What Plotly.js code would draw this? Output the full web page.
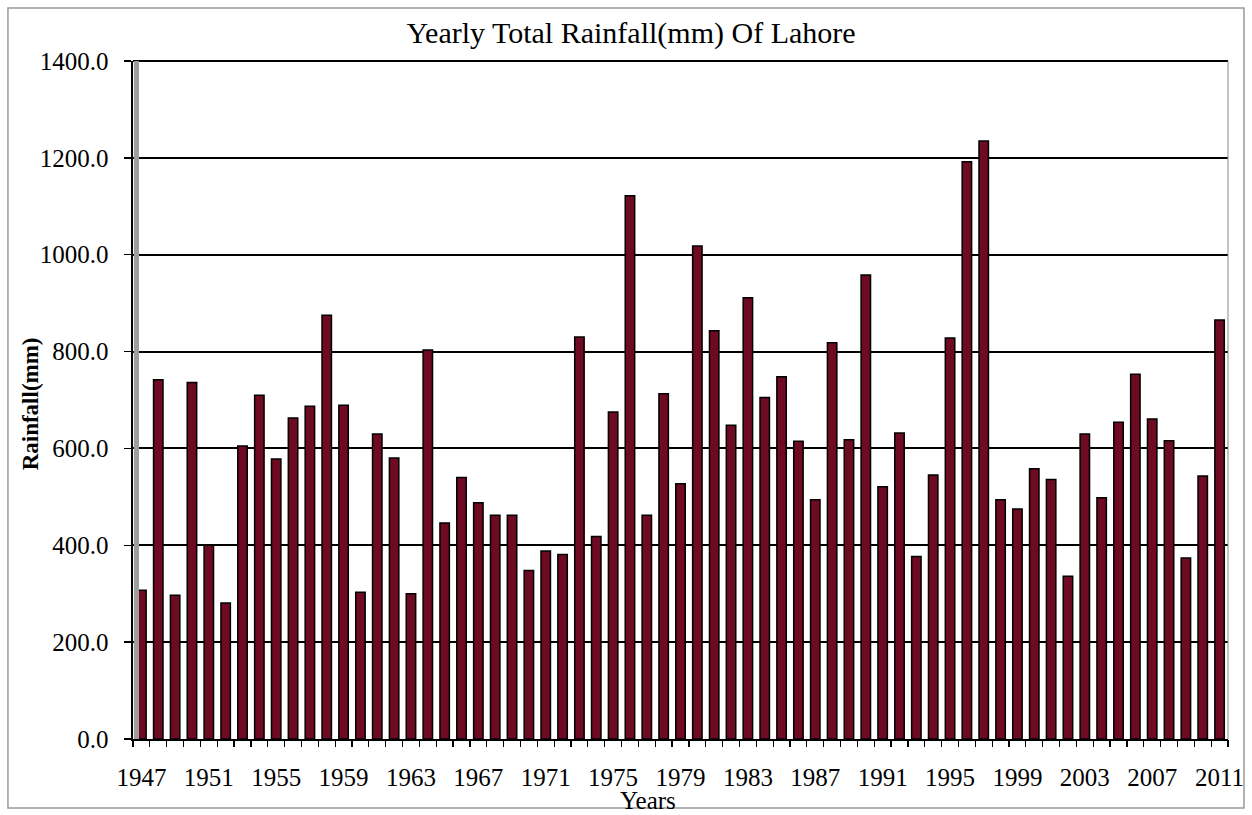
<!DOCTYPE html>
<html><head><meta charset="utf-8">
<script src="https://cdn.plot.ly/plotly-3.0.1.min.js"></script>
<style>html,body{margin:0;padding:0;background:#fff}#c{width:1252px;height:815px}</style>
</head><body><div id="c"></div>
<script>
var years = [];
for (var y = 1947; y <= 2011; y++) years.push(y);
var rainfall = [307,742,297,736,400,281,605,710,578,663,687,875,689,303,630,580,300,803,446,540,
488,462,462,348,388,381,830,418,675,1122,462,713,527,1018,843,648,911,705,748,615,
494,818,618,958,521,632,377,545,828,1192,1235,494,475,558,536,336,630,498,654,753,
661,616,374,543,865];
var labelYears = years.filter(function(v,i){return i%4===0;});
var boundaries = years.map(function(v){return v-0.5;}).concat([2011.5]);
var yTicks = [0,200,400,600,800,1000,1200,1400];

var serif = 'Liberation Serif, Times New Roman, serif';
var trace = {
  type:'bar', x:years, y:rainfall,
  marker:{color:'#6e0a22', line:{color:'#000', width:1.5}},
  width:0.56, hoverinfo:'x+y'
};
var tickTrace = {type:'scatter', x:[1946.5, 2011.5], y:[0,0], xaxis:'x2', mode:'none', hoverinfo:'skip'};
var layout = {
  width:1252, height:815,
  margin:{l:133, r:24, t:61, b:76},
  paper_bgcolor:'#fff', plot_bgcolor:'#fff',
  showlegend:false,
  title:{text:'Yearly Total Rainfall(mm) Of Lahore', font:{family:serif, size:30, color:'#000'}, x:0.504, xanchor:'center', y:0.96, yanchor:'middle'},
  xaxis:{
    range:[1946.5, 2011.5], tickvals:labelYears, ticktext:labelYears.map(String),
    ticks:'', showline:true, linecolor:'#000', linewidth:2, showgrid:false, zeroline:false,
    tickfont:{family:serif, size:25, color:'#000'}, tickangle:0, ticklabelstandoff:15
  },
  xaxis2:{
    overlaying:'x', side:'bottom', anchor:'y', range:[1946.5, 2011.5], tickvals:boundaries,
    showticklabels:false, ticks:'outside', ticklen:7, tickwidth:1.2, tickcolor:'#000',
    showline:false, showgrid:false, zeroline:false
  },
  yaxis:{
    range:[0,1400], tickvals:yTicks, ticktext:yTicks.map(function(v){return v.toFixed(1);}),
    ticks:'outside', ticklen:7, tickwidth:1.5, tickcolor:'#000',
    showline:true, linecolor:'#000', linewidth:2.5,
    showgrid:true, gridcolor:'#000', gridwidth:2, zeroline:false,
    tickfont:{family:serif, size:25, color:'#000'}, ticklabelstandoff:10
  },
  annotations:[
    {text:'Years', xref:'paper', yref:'paper', x:0.470, y:-0.09, xanchor:'center', yanchor:'middle', showarrow:false, font:{family:serif, size:25, color:'#000'}},
    {text:'<b>Rainfall(mm)</b>', xref:'paper', yref:'paper', x:-0.0941, y:0.495, xanchor:'center', yanchor:'middle', textangle:-90, showarrow:false, font:{family:serif, size:23, color:'#000'}}
  ],
  shapes:[
    {type:'rect', xref:'paper', yref:'paper', x0:-0.1142, x1:1.0146, y0:-0.1018, y1:1.0782, line:{color:'#9a9a9a', width:1.5}, fillcolor:'rgba(0,0,0,0)', layer:'below'},
    {type:'line', xref:'paper', yref:'paper', x0:0, x1:1, y0:1, y1:1, line:{color:'#000', width:2}},
    {type:'line', xref:'paper', yref:'paper', x0:1, x1:1, y0:0, y1:1, line:{color:'#888', width:1}},
    {type:'rect', xref:'paper', yref:'paper', x0:0.0008, x1:0.0055, y0:0, y1:1, line:{width:0}, fillcolor:'#9e9e9e'}
  ]
};
Plotly.newPlot('c',[trace, tickTrace],layout,{displayModeBar:false, staticPlot:true});
</script></body></html>
